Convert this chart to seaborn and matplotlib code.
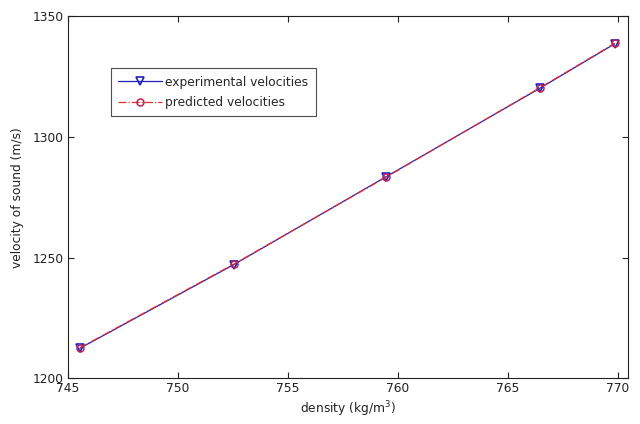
import matplotlib
matplotlib.use("Agg")
import matplotlib.pyplot as plt
import seaborn as sns
import pandas as pd

density = [745.55, 752.55, 759.45, 766.45, 769.85]
experimental = [1212.4, 1247.1, 1283.4, 1320.1, 1338.5]
predicted = [1212.6, 1247.3, 1283.2, 1320.3, 1338.7]

sns.set_theme(style="white")
plt.rcParams['font.family'] = ['DejaVu Sans']
plt.rcParams['xtick.direction'] = 'in'
plt.rcParams['ytick.direction'] = 'in'

fig = plt.figure(figsize=(6.4, 4.24), dpi=100)
ax = fig.add_axes([0.106, 0.108, 0.875, 0.854])

df_e = pd.DataFrame({"density": density, "velocity": experimental})
df_p = pd.DataFrame({"density": density, "velocity": predicted})

sns.lineplot(data=df_e, x="density", y="velocity", ax=ax, color="#2020c0",
             marker="v", markersize=5.5, markerfacecolor="none",
             markeredgecolor="#2020c0", markeredgewidth=1.2, linewidth=0.9,
             label="experimental velocities")
sns.lineplot(data=df_p, x="density", y="velocity", ax=ax, color="#e03030",
             marker="o", markersize=5, markerfacecolor="none",
             markeredgecolor="#c02050", markeredgewidth=1.1, linewidth=0.9,
             linestyle="-.", label="predicted velocities")

ax.set_xlim(745, 770.45)
ax.set_ylim(1200, 1350)
ax.set_xticks([745, 750, 755, 760, 765, 770])
ax.set_yticks([1200, 1250, 1300, 1350])
ax.tick_params(axis="both", which="both", direction="in", length=4, width=0.8,
               labelsize=8.8, colors="#222222", top=True, right=True,
               bottom=True, left=True, pad=3)
for s in ax.spines.values():
    s.set_color("#222222")
    s.set_linewidth(0.8)
ax.set_xlabel("density (kg/m$^3$)", fontsize=8.8, color="#222222", labelpad=3)
ax.set_ylabel("velocity of sound (m/s)", fontsize=8.8, color="#222222", labelpad=6)

leg = ax.legend(loc="upper left", bbox_to_anchor=(0.077, 0.856), fontsize=8.8,
                frameon=True, fancybox=False, edgecolor="#222222",
                borderpad=0.6, handlelength=3.6, handletextpad=0.25,
                labelspacing=0.6, borderaxespad=0)
leg.get_frame().set_linewidth(0.8)

fig.savefig("out.png", dpi=100, facecolor="white")
